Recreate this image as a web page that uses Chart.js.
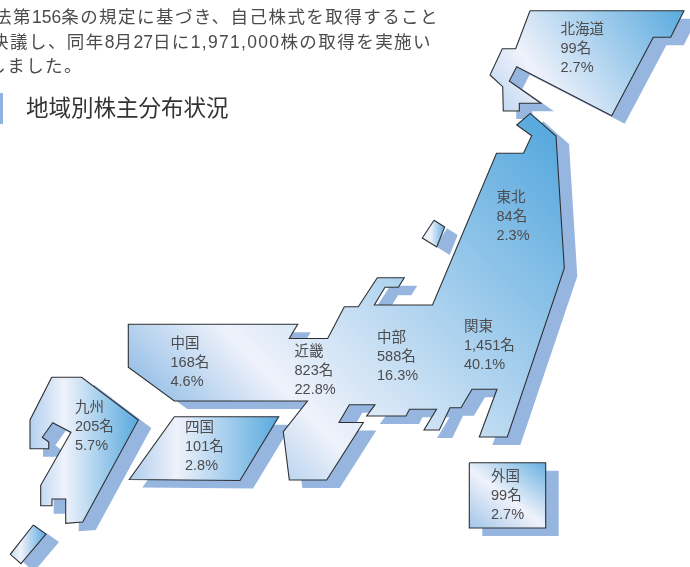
<!DOCTYPE html>
<html lang="ja">
<head>
<meta charset="utf-8">
<title>地域別株主分布状況</title>
<script src="https://cdn.jsdelivr.net/npm/chart.js@4"></script>
<style>
html,body{margin:0;padding:0;background:#fff;}
#page{position:relative;width:690px;height:567px;overflow:hidden;font-family:"Liberation Sans","Noto Sans CJK JP",sans-serif;}
#myChart{position:absolute;left:0;top:0;}
.line{position:absolute;white-space:nowrap;color:#4b4b4b;font-size:17.5px;letter-spacing:1.45px;line-height:24px;}
.line span{letter-spacing:0;}
.line span.wide{letter-spacing:1.3px;}
#bar{position:absolute;left:0;top:93px;width:3px;height:31px;background:#8fb4e2;}
#heading{position:absolute;left:26px;top:94px;font-size:22.5px;line-height:30px;color:#333;white-space:nowrap;}
</style>
</head>
<body>
<div id="page">
  <canvas id="myChart" width="690" height="567"></canvas>
  <div class="line" style="right:251px;top:5px">法第<span>156</span>条の規定に基づき、自己株式を取得すること</div>
  <div class="line" style="right:258px;top:30px">決議し、同年<span>8</span>月<span>27</span>日に<span class="wide">1,971,000</span>株の取得を実施い</div>
  <div class="line" style="right:607px;top:54px">しました。</div>
  <div id="bar"></div>
  <div id="heading">地域別株主分布状況</div>
</div>
<script>
// region labels
const regionNames=['北海道','東北','関東','中部','近畿','中国','四国','九州','外国'];
const holders=[99,84,1451,588,823,168,101,205,99];
const shares=[2.7,2.3,40.1,16.3,22.8,4.6,2.8,5.7,2.7];
const labelX=[560.5,496.5,464,377,294.5,170.5,185,75,491];
const labelY=[30,198,327,338,352,344,428,408,477];

// map outlines, in map units
const hokkaido=[[530,10.7],[684,10.7],[670.7,37.3],[653.3,37.3],[611.7,115.7],[516.7,66.7],[509.3,81],[541,103.3],[519.3,103.3],[519.3,111],[503.3,111],[502.7,86.7],[490,75],[502.3,48.7],[515.7,48.7]];
const honshu=[[530.3,113.3],[556,136],[564.3,268.3],[507.3,437],[479.3,437],[497,389.3],[472,389.3],[461,407.7],[450,407.7],[439.3,430],[424,430],[436.5,409.3],[409.5,409.3],[406,416],[366.7,416],[375,404.7],[349.3,404.7],[339,422.5],[363.3,422.5],[326.7,480],[289.3,480],[283.3,431.7],[307.5,401],[174.3,401],[128.3,367.3],[128.3,324.3],[297.7,324.3],[289.3,338.5],[327.7,338.5],[344.3,306.7],[358.3,306.7],[377.3,277.7],[404.3,277.7],[398.3,287.3],[385,287.3],[374.3,305],[432.5,305],[496.5,153.3],[523.5,153.3],[531.7,135.7],[516.7,125]];
const sado=[[434,220.3],[444.7,227],[436.7,247],[422.3,238]];
const shikoku=[[174.3,416.7],[278.7,416.7],[240,480.5],[129.3,479.5]];
const kyushu=[[51.7,377.3],[81.7,377.3],[138.3,420],[82.7,522],[65.7,523.3],[65.7,499],[52,499],[52,505.7],[40.7,505.7],[40.7,485.3],[71,432.3],[52.7,422.7],[42.3,437.3],[48.7,442],[48.7,448.7],[30,448.7],[30,420]];
const tanegashima=[[33.3,525],[46,534],[21,563.7],[10.3,554.3]];
const overseas=[[469.3,462.7],[545.7,462.7],[545.7,528],[469.3,528]];

const blue='#58a9de', pale='#eff2fb', edge='#2e3033', shadow='#97b6df';

function outline(pts,dx,dy){
    // repeat the first point so the stroke closes
    return pts.concat([pts[0]]).map(p=>({x:p[0]+dx,y:p[1]+dy}));
}

function gradient(x0,y0,x1,y1,stops){
    return function(c){
        const s=c.chart.scales;
        const px=[s.x.getPixelForValue(x0),s.y.getPixelForValue(y0),s.x.getPixelForValue(x1),s.y.getPixelForValue(y1)];
        // scales have no size yet on the first options pass
        if(!c.chart.chartArea||!px.every(Number.isFinite)) return pale;
        let g=c.chart.ctx.createLinearGradient(px[0],px[1],px[2],px[3]);
        stops.forEach(st=>g.addColorStop(st[0],st[1]));
        return g;
    };
}

const shapes=[
    {pts:hokkaido,fill:gradient(672,-8,490,122,[[0,blue],[0.71,pale],[1,'#b4d0ee']])},
    {pts:honshu,fill:gradient(556,140,196,485,[[0,blue],[0.74,pale],[1,'#7fb2e2']])},
    {pts:sado,fill:gradient(422,0,446,0,[[0,'#e6edf8'],[0.35,pale],[1,blue]])},
    {pts:shikoku,fill:gradient(129,0,279,0,[[0,'#aecceb'],[0.32,pale],[1,blue]])},
    {pts:kyushu,fill:gradient(30,0,138,0,[[0,'#b4d0ee'],[0.32,pale],[1,blue]])},
    {pts:tanegashima,fill:gradient(10,0,46,0,[[0,'#c8dcf1'],[0.3,pale],[1,blue]])},
    {pts:overseas,fill:gradient(546,456,484,538,[[0,blue],[0.55,pale],[1,'#a4c6e9']])}
];

let datasets=[];
shapes.forEach(s=>{
    datasets.push({data:outline(s.pts,13,8),showLine:true,fill:'shape',backgroundColor:shadow,borderWidth:0,pointRadius:0,order:2});
});
shapes.forEach(s=>{
    datasets.push({data:outline(s.pts,0,0),showLine:true,fill:'shape',backgroundColor:s.fill,borderColor:edge,borderWidth:1.1,borderJoinStyle:'miter',pointRadius:0,order:1});
});

// writes the three-line caption of each region
const regionLabels={
    id:'regionLabels',
    afterDatasetsDraw(chart){
        const ctx=chart.ctx;
        ctx.save();
        ctx.font='14.5px "Liberation Sans","Noto Sans CJK JP",sans-serif';
        ctx.fillStyle='#4c4c4e';
        ctx.textBaseline='middle';
        regionNames.forEach((name,i)=>{
            const x=chart.scales.x.getPixelForValue(labelX[i]);
            const y=chart.scales.y.getPixelForValue(labelY[i]);
            ctx.fillText(name,x,y);
            ctx.fillText(holders[i].toLocaleString('en-US')+'名',x,y+19);
            ctx.fillText(shares[i].toFixed(1)+'%',x,y+38);
        });
        ctx.restore();
    }
};

let myChart=new Chart(document.getElementById('myChart').getContext('2d'),{
    type:'scatter',
    data:{datasets:datasets},
    plugins:[regionLabels],
    options:{
        responsive:false,
        animation:false,
        layout:{padding:0},
        plugins:{legend:{display:false},tooltip:{enabled:false}},
        scales:{
            x:{type:'linear',min:0,max:690,display:false},
            y:{type:'linear',min:0,max:567,reverse:true,display:false}
        }
    }
});
</script>
</body>
</html>
